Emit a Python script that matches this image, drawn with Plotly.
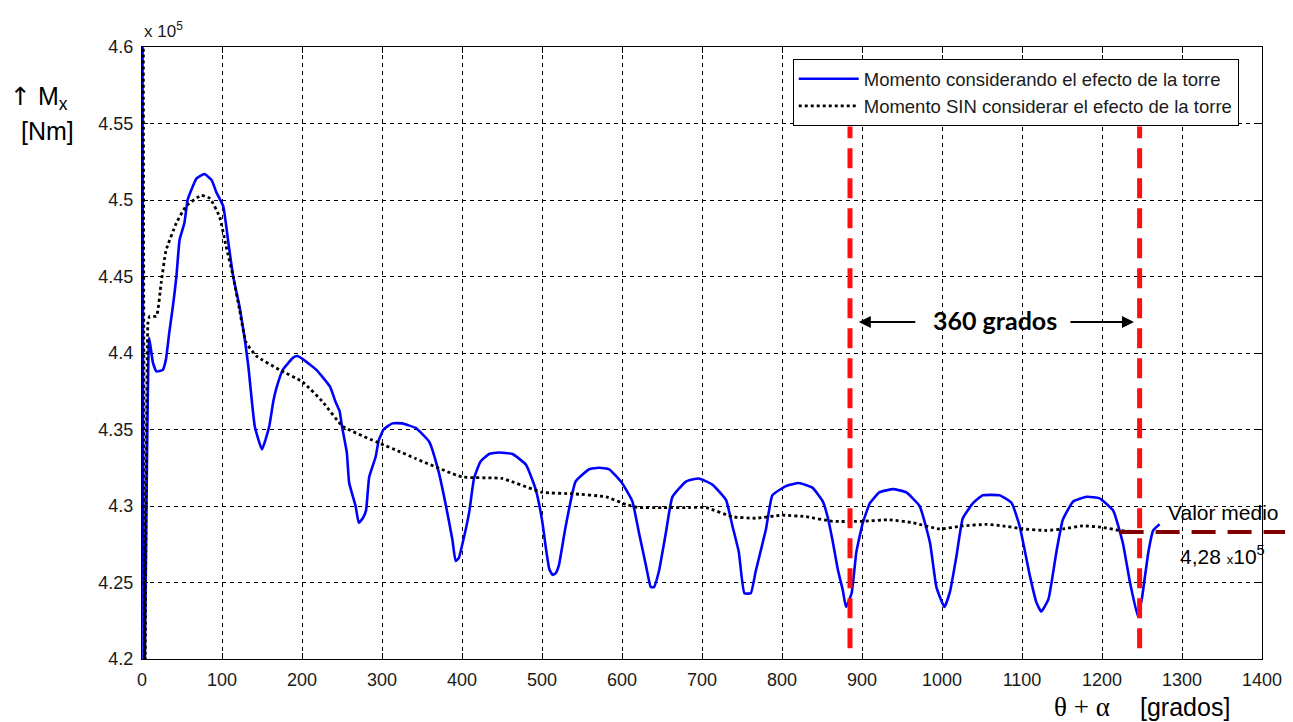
import plotly.graph_objects as go

# ---------------- data (values in units of 10^5 Nm) ----------------
angle_con_torre = [0.5, 2.5, 9, 13.5, 18, 26, 30, 34, 39, 43, 47, 53, 57, 62, 68, 78, 87, 93, 101.5,
                   108, 114, 122, 128.5, 133, 141, 150, 159, 164, 168, 176, 189, 194, 201, 218, 235,
                   242, 247, 250, 256, 259, 267, 271, 276, 280, 284, 292, 296, 302, 313, 325, 342,
                   359, 371, 380, 388, 392, 396, 400, 409, 415, 423, 434, 446, 463, 480, 492, 500,
                   505, 509, 513, 517, 521, 529, 542, 559, 571, 584, 600, 613, 621, 630, 636, 640,
                   646, 655, 663, 680, 696, 713, 730, 738, 746, 753, 761, 767, 780, 788, 805, 821,
                   838, 851, 857, 863, 870, 876, 880, 887, 893, 901, 910, 922, 939, 955, 972, 985,
                   993, 1003, 1010, 1018, 1026, 1039, 1051, 1072, 1087, 1097, 1110, 1118, 1124,
                   1133, 1143, 1151, 1164, 1181, 1197, 1214, 1226, 1235, 1245, 1250, 1258, 1264, 1272]
momento_con_torre = [4.65, 4.15, 4.410, 4.394, 4.388, 4.389, 4.396, 4.413, 4.432, 4.450, 4.474, 4.485,
                     4.500, 4.507, 4.514, 4.517, 4.513, 4.505, 4.496, 4.472, 4.450, 4.430, 4.409,
                     4.391, 4.352, 4.337, 4.352, 4.368, 4.377, 4.389, 4.397, 4.398, 4.396, 4.389,
                     4.378, 4.368, 4.362, 4.352, 4.335, 4.315, 4.300, 4.289, 4.292, 4.297, 4.319,
                     4.332, 4.343, 4.350, 4.354, 4.354, 4.351, 4.342, 4.322, 4.300, 4.278, 4.264,
                     4.266, 4.274, 4.296, 4.318, 4.329, 4.334, 4.335, 4.334, 4.327, 4.311, 4.291,
                     4.272, 4.259, 4.255, 4.256, 4.261, 4.285, 4.316, 4.324, 4.325, 4.324, 4.315,
                     4.303, 4.283, 4.261, 4.247, 4.247, 4.257, 4.283, 4.306, 4.316, 4.318, 4.314,
                     4.304, 4.287, 4.270, 4.243, 4.243, 4.257, 4.285, 4.307, 4.313, 4.315, 4.312,
                     4.303, 4.293, 4.278, 4.258, 4.245, 4.234, 4.243, 4.270, 4.289, 4.302, 4.309,
                     4.311, 4.309, 4.300, 4.276, 4.247, 4.234, 4.244, 4.267, 4.292, 4.302, 4.307,
                     4.307, 4.302, 4.287, 4.254, 4.237, 4.231, 4.239, 4.270, 4.291, 4.303, 4.306,
                     4.305, 4.297, 4.276, 4.250, 4.2275, 4.240, 4.270, 4.284, 4.288]

angle_sin_torre = [1.5, 3.5, 7.5, 9.6, 18, 24, 30, 43, 55, 74, 85, 97, 105, 114, 122, 130, 143, 172,
                   201, 226, 251, 297, 320, 342, 400, 450, 500, 538, 580, 605, 621, 650, 684, 705,
                   738, 767, 800, 830, 863, 901, 934, 964, 997, 1026, 1056, 1076, 1101, 1131, 1151,
                   1176, 1201, 1222, 1244]
momento_sin_torre = [4.65, 4.15, 4.420, 4.424, 4.424, 4.446, 4.467, 4.485, 4.496, 4.503, 4.501,
                     4.489, 4.470, 4.450, 4.428, 4.407, 4.398, 4.389, 4.381, 4.368, 4.352, 4.341,
                     4.336, 4.331, 4.319, 4.318, 4.309, 4.308, 4.306, 4.301, 4.299, 4.299, 4.299,
                     4.299, 4.293, 4.292, 4.294, 4.293, 4.290, 4.290, 4.291, 4.289, 4.285, 4.287,
                     4.288, 4.287, 4.285, 4.284, 4.285, 4.287, 4.286, 4.284, 4.283]

y_ticks = [4.2, 4.25, 4.3, 4.35, 4.4, 4.45, 4.5, 4.55, 4.6]
y_tick_text = ["4.2", "4.25", "4.3", "4.35", "4.4", "4.45", "4.5", "4.55", "4.6"]
x_ticks = [0, 100, 200, 300, 400, 500, 600, 700, 800, 900, 1000, 1100, 1200, 1300, 1400]
x_tick_text = [str(v) for v in x_ticks]

periodo_inicio = 885
periodo_fin = 1247
valor_medio = 4.283
x_medio_inicio = 1222

X_RANGE = [0, 1400]
Y_RANGE = [4.2, 4.6]

# ---------------- figure ----------------
fig = go.Figure()
fig.add_trace(go.Scatter(x=angle_con_torre, y=momento_con_torre, mode="lines",
                         name="Momento considerando el efecto de la torre",
                         line=dict(color="#0000FF", width=2.6, shape="spline", smoothing=0.4)))
fig.add_trace(go.Scatter(x=angle_sin_torre, y=momento_sin_torre, mode="lines",
                         name="Momento SIN considerar el efecto de la torre",
                         line=dict(color="#000000", width=2.8, dash="dot", shape="spline",
                                   smoothing=0.4)))

def ypaper(v):
    return (v - Y_RANGE[0]) / (Y_RANGE[1] - Y_RANGE[0])

def xpaper(v):
    return (v - X_RANGE[0]) / (X_RANGE[1] - X_RANGE[0])

shapes = []
for xv in (periodo_inicio, periodo_fin):
    shapes.append(dict(type="line", xref="x", yref="y", x0=xv, x1=xv, y0=4.207, y1=4.548,
                       line=dict(color="#FF1010", width=5, dash="20px,10px"), layer="above"))
shapes.append(dict(type="line", xref="paper", yref="paper", x0=xpaper(x_medio_inicio), x1=1.03,
                   y0=ypaper(valor_medio), y1=ypaper(valor_medio),
                   line=dict(color="#800000", width=4, dash="24px,12px"), layer="above"))

font_main = "Liberation Sans, Arial, sans-serif"
annotations = [
    dict(text="x 10<sup>5</sup>", xref="paper", yref="paper", x=0.0, y=1.028, xanchor="left",
         yanchor="middle", showarrow=False, font=dict(size=17, color="#1a1a1a", family=font_main)),
    dict(text="<span style='font-family:DejaVu Sans'>↑</span> M<sub>x</sub>", xref="paper",
         yref="paper", x=-0.092, y=0.917, xanchor="center",
         yanchor="middle", showarrow=False, font=dict(size=25, color="black", family=font_main)),
    dict(text="[Nm]", xref="paper", yref="paper", x=-0.084, y=0.862, xanchor="center",
         yanchor="middle", showarrow=False, font=dict(size=25, color="black", family=font_main)),
    dict(text="θ + α", xref="paper", yref="paper", x=0.839, y=-0.079, xanchor="center",
         yanchor="middle", showarrow=False,
         font=dict(size=27, color="black", family="Liberation Serif, Times New Roman, serif")),
    dict(text="[grados]", xref="paper", yref="paper", x=0.931, y=-0.079, xanchor="center",
         yanchor="middle", showarrow=False, font=dict(size=25, color="black", family=font_main)),
    dict(text="<b>360 grados</b>", xref="paper", yref="paper", x=0.7616, y=0.554, xanchor="center",
         yanchor="middle", showarrow=False, font=dict(size=25, color="black", family="Lato, sans-serif")),
    dict(text="", xref="paper", yref="paper", x=0.640, y=0.5507, ax=58, ay=0, showarrow=True,
         arrowhead=2, arrowsize=1.2, arrowwidth=2, arrowcolor="black"),
    dict(text="", xref="paper", yref="paper", x=0.8857, y=0.5507, ax=-65, ay=0, showarrow=True,
         arrowhead=2, arrowsize=1.2, arrowwidth=2, arrowcolor="black"),
    dict(text="Valor medio", xref="paper", yref="paper", x=0.966, y=0.2386, xanchor="center",
         yanchor="middle", showarrow=False, font=dict(size=21, color="black", family=font_main)),
    dict(text="4,28 <span style='font-size:13px'>x</span>10<sup>5</sup>", xref="paper", yref="paper",
         x=0.965, y=0.170, xanchor="center", yanchor="middle", showarrow=False,
         font=dict(size=21, color="black", family=font_main)),
]

axis_common = dict(showline=True, linecolor="black", linewidth=1, mirror="ticks",
                   ticks="inside", ticklen=6, tickcolor="black", showgrid=True,
                   gridcolor="black", gridwidth=1, griddash="4px,4px", zeroline=False,
                   tickfont=dict(size=18, color="#1a1a1a", family=font_main))

# the page body has an 8px default margin, so the figure is offset by 8px
fig.update_layout(
    width=1285, height=714,
    margin=dict(l=134, r=31, t=39, b=63),
    paper_bgcolor="white", plot_bgcolor="white",
    xaxis=dict(range=X_RANGE, tickvals=x_ticks, ticktext=x_tick_text, ticklabelstandoff=4,
               **axis_common),
    yaxis=dict(range=Y_RANGE, tickvals=y_ticks, ticktext=y_tick_text, ticklabelstandoff=4,
               **axis_common),
    legend=dict(x=0.581, y=0.980, xanchor="left", yanchor="top", bgcolor="white",
                bordercolor="black", borderwidth=1, itemwidth=60,
                font=dict(size=18.5, color="#1a1a1a", family=font_main), tracegroupgap=0),
    shapes=shapes,
    annotations=annotations,
    showlegend=True,
)

fig.write_html("out.html")
